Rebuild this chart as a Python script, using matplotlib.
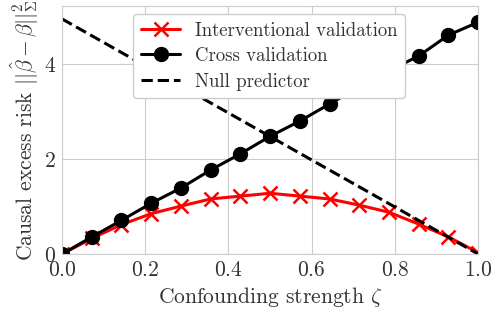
import numpy as np
import matplotlib
matplotlib.use("Agg")
import matplotlib.pyplot as plt
import seaborn as sns

# confounding strength grid
zeta = [0, 1/14, 2/14, 3/14, 4/14, 5/14, 6/14, 7/14, 8/14, 9/14, 10/14, 11/14, 12/14, 13/14, 1]

# risks
interventional = [0.0, 0.33, 0.62, 0.85, 1.01, 1.16, 1.22, 1.28, 1.22, 1.16, 1.03, 0.88, 0.63, 0.36, 0.03]
cross_val = [0.0, 0.36, 0.71, 1.07, 1.39, 1.77, 2.11, 2.48, 2.8, 3.16, 3.52, 3.86, 4.17, 4.61, 4.88]
null_x = [0.0, 1.0]
null_y = [4.95, 0.0]

sns.set_style("whitegrid")
plt.rcParams["font.family"] = ["serif"]
plt.rcParams["font.serif"] = ["cmr10", "DejaVu Serif"]
plt.rcParams["mathtext.fontset"] = "cm"
plt.rcParams["axes.formatter.use_mathtext"] = True

fig, ax = plt.subplots(figsize=(4.92, 3.2), dpi=100)
ax.plot(zeta, interventional, color="red", marker="x", ms=10, mew=1.8, lw=2.2,
        label="Interventional validation")
ax.plot(zeta, cross_val, color="black", marker="o", ms=10, lw=2.2,
        label="Cross validation")
ax.plot(null_x, null_y, color="black", ls="--", lw=2.2, label="Null predictor")

ax.set_xlim(0, 1)
ax.set_ylim(0, 5.22)
ax.set_xticks([0, 0.2, 0.4, 0.6, 0.8, 1.0])
ax.set_yticks([0, 2, 4])
ax.tick_params(labelsize=15.5, colors="#333333", pad=1)
ax.set_xlabel(r"Confounding strength $\zeta$", fontsize=15.5, color="#333333", labelpad=4)
ax.set_ylabel(r"Causal excess risk $||\hat{\beta}-\beta||_\Sigma^2$", fontsize=15.5,
              color="#333333", labelpad=2)
for s in ax.spines.values():
    s.set_color("#cccccc")
ax.legend(loc="upper center", fontsize=13.5, bbox_to_anchor=(0.498, 1.005),
          labelcolor="#333333", handlelength=2.1, handletextpad=0.8, framealpha=1,
          borderpad=0.4, labelspacing=0.4)

plt.subplots_adjust(left=0.126, right=0.972, top=0.981, bottom=0.206)
plt.savefig("out.png", dpi=100)
